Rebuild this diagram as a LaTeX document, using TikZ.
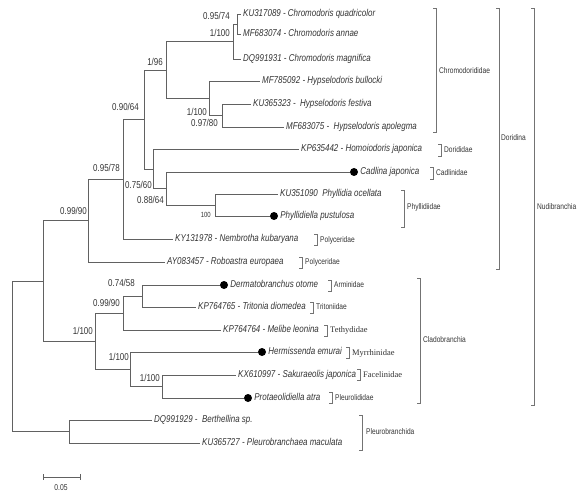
\documentclass[tikz,border=0pt]{standalone}
\usepackage{fontspec}
\setmainfont{Liberation Sans}
\newfontfamily\taxfont[FakeStretch=0.8]{Liberation Sans}
\newfontfamily\famserif{Liberation Serif}
\usetikzlibrary{positioning}

\tikzset{
  branch/.style={draw=black!62, line width=0.9bp},
  clade/.style={draw=black!55, line width=0.8bp},
  taxon/.style={anchor=west, inner xsep=2bp, inner ysep=0pt, text height=6bp, text depth=1bp, text=black!80, font=\taxfont\itshape\fontsize{10}{12}\selectfont},
  support/.style={anchor=east, inner sep=0pt, text=black!80, font=\taxfont\fontsize{10}{12}\selectfont},
  family/.style={anchor=west, inner sep=0pt, text=black!80, font=\taxfont\fontsize{8.3}{10}\selectfont},
  familyserif/.style={anchor=west, inner sep=0pt, text=black!80, font=\famserif\fontsize{8.5}{10}\selectfont},
  tipdot/.style={circle, fill=black, inner sep=0pt, minimum size=8bp},
}

\begin{document}
\begin{tikzpicture}[x=1bp, y=-1bp]
    \useasboundingbox (0,0) rectangle (588,502);

    % Leaves - Doridina
    \node[taxon] (quad) at (241,14) {KU317089 - Chromodoris quadricolor};
    \node[taxon] (annae) at (241,34) {MF683074 - Chromodoris annae};
    \node[taxon] (magn) at (241,59) {DQ991931 - Chromodoris magnifica};
    \node[taxon] (bull) at (260,81) {MF785092 - Hypselodoris bullocki};
    \node[taxon] (fest) at (251,104) {KU365323 -\ \ Hypselodoris festiva};
    \node[taxon] (apol) at (284,127) {MF683075 -\ \ Hypselodoris apolegma};
    \node[taxon] (homo) at (299,149) {KP635442 - Homoiodoris japonica};
    \node[tipdot] (cadl-dot) at (354,172) {};
    \node[taxon, right=0bp of cadl-dot] (cadl) {Cadlina japonica};
    \node[taxon] (ocel) at (278,194) {KU351090\ \ Phyllidia ocellata};
    \node[tipdot] (pust-dot) at (274,216) {};
    \node[taxon, right=0bp of pust-dot] (pust) {Phyllidiella pustulosa};
    \node[taxon] (nemb) at (173,239) {KY131978 - Nembrotha kubaryana};
    \node[taxon] (robo) at (165,262) {AY083457 - Roboastra europaea};

    % Leaves - Cladobranchia
    \node[tipdot] (derm-dot) at (224,285) {};
    \node[taxon, right=0bp of derm-dot] (derm) {Dermatobranchus otome};
    \node[taxon] (trit) at (196,307) {KP764765 - Tritonia diomedea};
    \node[taxon] (meli) at (221,330) {KP764764 - Melibe leonina};
    \node[tipdot] (herm-dot) at (262,352) {};
    \node[taxon, right=0bp of herm-dot] (herm) {Hermissenda emurai};
    \node[taxon] (saku) at (236,375) {KX610997 - Sakuraeolis japonica};
    \node[tipdot] (prot-dot) at (248,398) {};
    \node[taxon, right=0bp of prot-dot] (prot) {Protaeolidiella atra};

    % Leaves - Pleurobranchida
    \node[taxon] (bert) at (152,420) {DQ991929 -\ \ Berthellina sp.};
    \node[taxon] (pleu) at (200,443) {KU365727 - Pleurobranchaea maculata};

    % Internal nodes
    \coordinate (c1) at (237,24);
    \coordinate (c2) at (233,41.5);
    \coordinate (h2) at (222,115.5);
    \coordinate (h1) at (209,98);
    \coordinate (ch) at (166,70);
    \coordinate (ph) at (215,205);
    \coordinate (d3) at (166,188.5);
    \coordinate (d2) at (153,169);
    \coordinate (d1) at (144,119.5);
    \coordinate (d0) at (123,179);
    \coordinate (dd) at (88,220.5);
    \coordinate (cl2) at (142,296);
    \coordinate (cl1) at (123,313);
    \coordinate (cl4) at (162,386.5);
    \coordinate (cl3) at (130,369);
    \coordinate (cl) at (95,341);
    \coordinate (nu) at (43,281);
    \coordinate (pl) at (69,431.5);
    \coordinate (root) at (12,356);

    % Branches
    \draw[branch] (c1) |- (quad.west) (c1) |- (annae.west);
    \draw[branch] (c2) |- (c1) (c2) |- (magn.west);
    \draw[branch] (h2) |- (fest.west) (h2) |- (apol.west);
    \draw[branch] (h1) |- (bull.west) (h1) |- (h2);
    \draw[branch] (ch) |- (c2) (ch) |- (h1);
    \draw[branch] (ph) |- (ocel.west) (ph) |- (pust-dot);
    \draw[branch] (d3) |- (cadl-dot) (d3) |- (ph);
    \draw[branch] (d2) |- (homo.west) (d2) |- (d3);
    \draw[branch] (d1) |- (ch) (d1) |- (d2);
    \draw[branch] (d0) |- (d1) (d0) |- (nemb.west);
    \draw[branch] (dd) |- (d0) (dd) |- (robo.west);
    \draw[branch] (cl2) |- (derm-dot) (cl2) |- (trit.west);
    \draw[branch] (cl1) |- (cl2) (cl1) |- (meli.west);
    \draw[branch] (cl4) |- (saku.west) (cl4) |- (prot-dot);
    \draw[branch] (cl3) |- (herm-dot) (cl3) |- (cl4);
    \draw[branch] (cl) |- (cl1) (cl) |- (cl3);
    \draw[branch] (nu) |- (dd) (nu) |- (cl);
    \draw[branch] (pl) |- (bert.west) (pl) |- (pleu.west);
    \draw[branch] (root) |- (nu) (root) |- (pl);

    % Support values
    \node[support] (s-c1) at (230,16) {0.95/74};
    \node[support] (s-c2) at (230,33) {1/100};
    \node[support] (s-ch) at (163,62) {1/96};
    \node[support] (s-h1) at (207,112) {1/100};
    \node[support] (s-h2) at (218,123) {0.97/80};
    \node[support] (s-d1) at (139,107) {0.90/64};
    \node[support] (s-d0) at (120,168) {0.95/78};
    \node[support] (s-d2) at (152,185) {0.75/60};
    \node[support] (s-d3) at (164,200) {0.88/64};
    \node[support, font=\taxfont\fontsize{7.5}{9}\selectfont] (s-ph) at (211,215) {100};
    \node[support] (s-dd) at (87,211) {0.99/90};
    \node[support] (s-cl2) at (135,283) {0.74/58};
    \node[support] (s-cl1) at (120,303) {0.99/90};
    \node[support] (s-cl) at (93,331) {1/100};
    \node[support] (s-cl3) at (129,357) {1/100};
    \node[support] (s-cl4) at (160,378) {1/100};

    % Family brackets
    \draw[clade] (433,8) -- (436,8) -- (436,132) -- (433,132);
    \node[family] (f-chrom) at (439,71) {Chromodorididae};
    \draw[clade] (438,144) -- (441,144) -- (441,156) -- (438,156);
    \node[family] (f-dori) at (444,150) {Dorididae};
    \draw[clade] (430,167) -- (433,167) -- (433,179) -- (430,179);
    \node[family] (f-cadl) at (436,173) {Cadlinidae};
    \draw[clade] (401,190) -- (404,190) -- (404,227) -- (401,227);
    \node[family] (f-phyl) at (407,207) {Phyllidiidae};
    \draw[clade] (314,234) -- (317,234) -- (317,245) -- (314,245);
    \node[family] (f-poly1) at (320,240) {Polyceridae};
    \draw[clade] (299,257) -- (302,257) -- (302,268) -- (299,268);
    \node[family] (f-poly2) at (305,262) {Polyceridae};
    \draw[clade] (328,280) -- (331,280) -- (331,291) -- (328,291);
    \node[family] (f-armi) at (334,285) {Arminidae};
    \draw[clade] (310,302) -- (313,302) -- (313,313) -- (310,313);
    \node[family] (f-trit) at (316,307) {Tritoniidae};
    \draw[clade] (324,325) -- (327,325) -- (327,336) -- (324,336);
    \node[familyserif] (f-teth) at (330,330) {Tethydidae};
    \draw[clade] (346,347) -- (349,347) -- (349,358) -- (346,358);
    \node[familyserif] (f-myrr) at (352,353) {Myrrhinidae};
    \draw[clade] (357,369) -- (360,369) -- (360,380) -- (357,380);
    \node[familyserif] (f-face) at (363,375) {Facelinidae};
    \draw[clade] (329,392) -- (332,392) -- (332,403) -- (329,403);
    \node[family] (f-pleu) at (335,398) {Pleurolididae};

    % Higher clades
    \draw[clade] (359,415) -- (362,415) -- (362,450) -- (359,450);
    \node[family] (k-pleu) at (366,432) {Pleurobranchida};
    \draw[clade] (417,278) -- (420,278) -- (420,403) -- (417,403);
    \node[family] (k-clad) at (423,340) {Cladobranchia};
    \draw[clade] (496,8) -- (499,8) -- (499,269) -- (496,269);
    \node[family] (k-dori) at (501,138) {Doridina};
    \draw[clade] (531,8) -- (534,8) -- (534,405) -- (531,405);
    \node[family] (k-nudi) at (537,207) {Nudibranchia};

    % Scale bar
    \coordinate (sb-l) at (43,477);
    \coordinate (sb-r) at (80,477);
    \draw[branch] (sb-l) -- (sb-r);
    \draw[branch] ([yshift=3bp]sb-l) -- ([yshift=-3bp]sb-l);
    \draw[branch] ([yshift=3bp]sb-r) -- ([yshift=-3bp]sb-r);
    \node[support, anchor=north, font=\taxfont\fontsize{8.5}{10}\selectfont] (sb-lab) at (61,484) {0.05};
\end{tikzpicture}
\end{document}
